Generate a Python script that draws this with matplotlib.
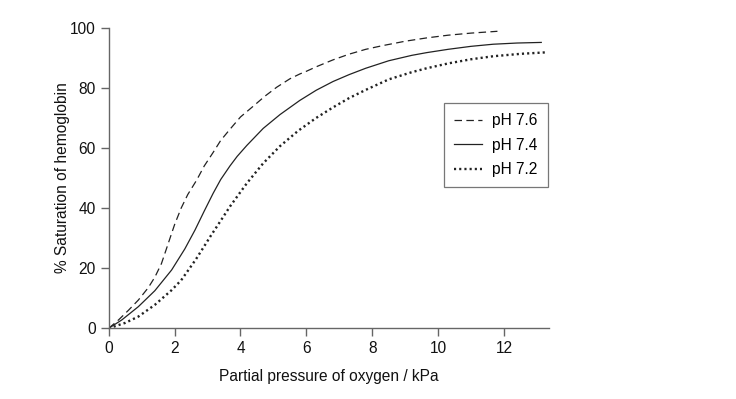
import matplotlib
matplotlib.use("Agg")
import matplotlib.pyplot as plt

plt.rcParams['font.family'] = ['Liberation Sans', 'DejaVu Sans']

# pH 7.6 (dashed)
x76 = [0, 0.3, 0.6, 0.9, 1.2, 1.4, 1.6, 1.8, 2.0, 2.2, 2.4, 2.67, 2.9, 3.17, 3.4,
       3.68, 4.0, 4.4, 4.74, 5.1, 5.5, 5.8, 6.0, 6.3, 6.81, 7.3, 7.8, 8.3, 9.0,
       9.65, 10.3, 11.0, 11.8]
y76 = [0, 2.8, 6, 9.4, 13.5, 17, 21.5, 28, 34.5, 40, 44.5, 49.3, 54, 58.5, 62.5,
       66.2, 70.3, 74, 77.2, 80.2, 83, 84.6, 85.5, 87, 89.3, 91.2, 92.8, 94, 95.5,
       96.6, 97.5, 98.2, 98.8]

# pH 7.4 (solid)
x74 = [0, 0.4, 0.9, 1.4, 1.91, 2.31, 2.62, 2.9, 3.17, 3.4, 3.68, 3.9, 4.19, 4.69,
       5.2, 5.8, 6.3, 6.81, 7.3, 7.8, 8.5, 9.2, 9.65, 10.3, 11.0, 11.67, 12.4, 13.13]
y74 = [0, 2.8, 7.2, 12.5, 19.4, 26.4, 32.7, 39, 44.9, 49.5, 54, 57.2, 60.8, 66.5,
       71.1, 75.8, 79.2, 82.1, 84.4, 86.5, 89, 90.8, 91.7, 92.8, 93.8, 94.5, 94.9, 95.1]

# pH 7.2 (dotted)
x72 = [0, 0.5, 0.9, 1.4, 1.91, 2.2, 2.42, 2.65, 2.87, 3.1, 3.4, 3.68, 3.95, 4.19,
       4.45, 4.69, 5.2, 5.75, 6.3, 6.81, 7.3, 7.8, 8.5, 9.2, 9.65, 10.3, 11.0,
       11.67, 12.5, 13.28]
y72 = [0, 1.8, 3.9, 7.8, 12.7, 16, 19.4, 23, 26.8, 30.8, 35.8, 40.5, 44.6, 48.2,
       51.7, 54.9, 60.6, 65.7, 70, 73.5, 76.6, 79.3, 82.8, 85.2, 86.5, 88.1, 89.5,
       90.5, 91.3, 91.8]

labels = ["pH 7.6", "pH 7.4", "pH 7.2"]
xticks = [0, 2, 4, 6, 8, 10, 12]
yticks = [0, 20, 40, 60, 80, 100]

fig = plt.figure(figsize=(7.36, 3.99), dpi=100)
ax = fig.add_axes([0.1477, 0.1772, 0.598, 0.7534])

ax.plot(x76, y76, color='#222222', lw=0.9, dashes=(6, 3.5), label=labels[0])
ax.plot(x74, y74, color='#222222', lw=0.9, label=labels[1])
ax.plot(x72, y72, color='#222222', lw=1.7, dashes=(0.9, 1.3), label=labels[2])

ax.set_xlim(0, 13.36)
ax.set_ylim(0, 100)
ax.set_xticks(xticks)
ax.set_yticks(yticks)
for s in ['top', 'right']:
    ax.spines[s].set_visible(False)
for s in ['left', 'bottom']:
    ax.spines[s].set_color('#666666')
    ax.spines[s].set_linewidth(1.0)
ax.tick_params(direction='out', length=5.5, width=1.0, color='#666666',
               labelsize=11.2, labelcolor='#111111', pad=4)

ax.set_xlabel("Partial pressure of oxygen / kPa", fontsize=11.2, color='#111111', labelpad=9)
ax.set_ylabel("% Saturation of hemoglobin", fontsize=11.2, color='#111111', labelpad=0)

leg = fig.legend(loc='upper left', bbox_to_anchor=(0.6033, 0.741), fontsize=11.2,
                 frameon=True, fancybox=False, edgecolor='#555555', handlelength=1.8,
                 borderpad=0.65, labelspacing=0.6, handletextpad=0.65, borderaxespad=0)
leg.get_frame().set_linewidth(0.9)

fig.savefig("out.png", dpi=100)
